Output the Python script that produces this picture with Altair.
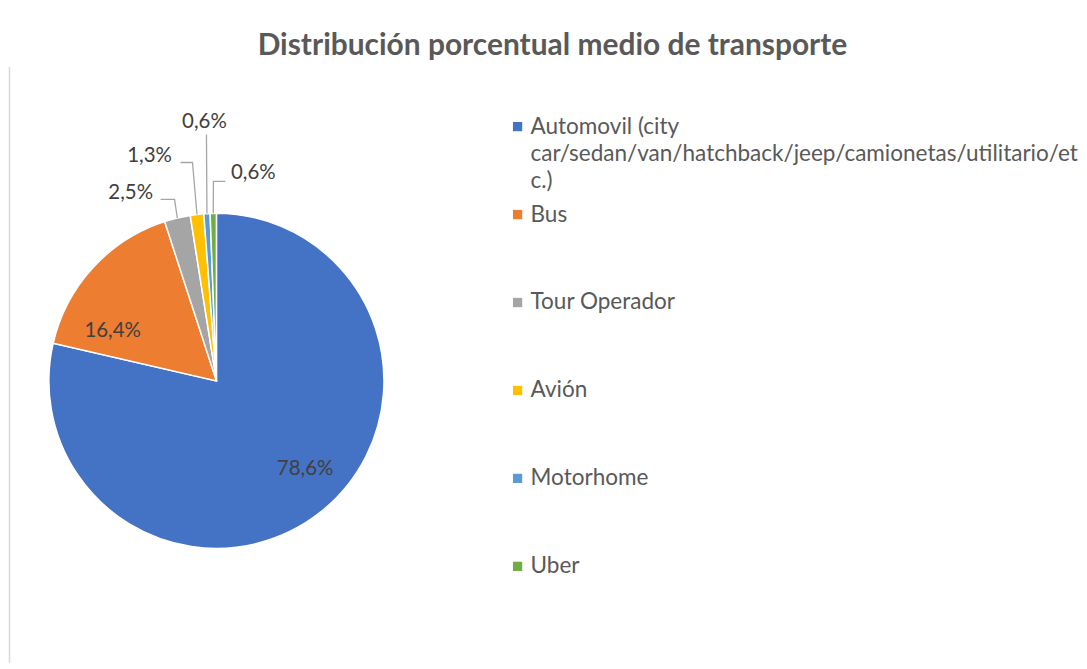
import math
import altair as alt
import pandas as pd

# ---------------- data ----------------
categories = [
    "Automovil (city car/sedan/van/hatchback/jeep/camionetas/utilitario/etc.)",
    "Bus",
    "Tour Operador",
    "Avión",
    "Motorhome",
    "Uber",
]
legend_labels = [
    "Automovil (city\ncar/sedan/van/hatchback/jeep/camionetas/utilitario/et\nc.)",
    "Bus",
    "Tour Operador",
    "Avión",
    "Motorhome",
    "Uber",
]
values = [78.6, 16.4, 2.5, 1.3, 0.6, 0.6]
value_labels = ["78,6%", "16,4%", "2,5%", "1,3%", "0,6%", "0,6%"]
colors = ["#4472C4", "#ED7D31", "#A5A5A5", "#FFC000", "#5B9BD5", "#70AD47"]

title_text = "Distribución porcentual medio de transporte"

# ---------------- layout ----------------
PIE_W = 480
LEG_W = 591
PANEL_H = 590
CX, CY, R = 208, 315, 168
FONT = "Lato"

# label offsets from pie centre (dx, dy)
label_offsets = [(89, 88), (-104, -50), (-86, -188), (-67, -225), (-12, -260), (37, -208)]
# leader-line elbow points from pie centre; the last point is the slice edge
leader_elbows = {
    2: [(-56, -182), (-42, -182)],
    3: [(-36, -219), (-24, -219)],
    4: [(-10, -247)],
    5: [(9, -200), (-3, -200)],
}

pie_df = pd.DataFrame({
    "category": categories,
    "value": values,
    "label": value_labels,
    "idx": list(range(len(categories))),
})

lab_df = pd.DataFrame({
    "label": value_labels,
    "x": [CX + dx for dx, dy in label_offsets],
    "y": [CY + dy for dx, dy in label_offsets],
})

total = sum(values)
rows = []
cum = 0.0
for i, v in enumerate(values):
    mid = 2 * math.pi * (cum + v / 2) / total
    cum += v
    if i in leader_elbows:
        pts = list(leader_elbows[i]) + [(R * math.sin(mid), -R * math.cos(mid))]
        for j, (dx, dy) in enumerate(pts):
            rows.append({"key": i, "o": j, "x": CX + dx, "y": CY + dy})
lead_df = pd.DataFrame(rows)

xs = alt.Scale(domain=[0, PIE_W], range=[0, PIE_W], nice=False, zero=False)
ys = alt.Scale(domain=[0, PANEL_H], range=[0, PANEL_H], nice=False, zero=False)

arcs = alt.Chart(pie_df).mark_arc(outerRadius=R, stroke="white", strokeWidth=1.5).encode(
    theta=alt.Theta("value:Q", stack=True),
    color=alt.Color("category:N", scale=alt.Scale(domain=categories, range=colors), legend=None),
    order=alt.Order("idx:Q"),
    x=alt.value(CX),
    y=alt.value(CY),
)

leaders = alt.Chart(lead_df).mark_line(color="#A6A6A6", strokeWidth=1.3).encode(
    x=alt.X("x:Q", scale=xs, axis=None),
    y=alt.Y("y:Q", scale=ys, axis=None),
    detail="key:N",
    order="o:Q",
)

labels = alt.Chart(lab_df).mark_text(
    font=FONT, fontSize=20.5, color="#404040", align="center", baseline="middle"
).encode(
    x=alt.X("x:Q", scale=xs, axis=None),
    y=alt.Y("y:Q", scale=ys, axis=None),
    text="label:N",
)

border = alt.Chart(pd.DataFrame({"a": [0]})).mark_rule(color="#D9D9D9", strokeWidth=1.5).encode(
    x=alt.value(0.5), y=alt.value(0), y2=alt.value(PANEL_H + 8)
)

pie = alt.layer(border, arcs, leaders, labels).properties(width=PIE_W, height=PANEL_H)

leg_df = pd.DataFrame({"category": categories, "text": legend_labels})
ly = alt.Scale(type="point", domain=categories, range=[60, 501], padding=0)

leg_sq = alt.Chart(leg_df).mark_square(size=86, opacity=1).encode(
    x=alt.value(30),
    y=alt.Y("category:N", scale=ly, axis=None),
    color=alt.Color("category:N", scale=alt.Scale(domain=categories, range=colors), legend=None),
)
leg_txt = alt.Chart(leg_df).mark_text(
    font=FONT, fontSize=22.6, color="#595959", align="left", baseline="middle",
    lineBreak="\n", lineHeight=27.5,
).encode(
    x=alt.value(43),
    y=alt.Y("category:N", scale=ly, axis=None),
    text="text:N",
)
legend = alt.layer(leg_sq, leg_txt).properties(width=LEG_W, height=PANEL_H)

chart = alt.hconcat(pie, legend, spacing=0).properties(
    title=alt.TitleParams(
        title_text, font=FONT, fontSize=30, fontWeight="bold", color="#595959",
        anchor="middle", offset=5, dx=9,
    ),
    padding={"left": 0, "top": 22, "right": 0, "bottom": 0},
).configure_view(stroke=None)

chart.save("out.html", embed_options={"renderer": "svg", "actions": False})
